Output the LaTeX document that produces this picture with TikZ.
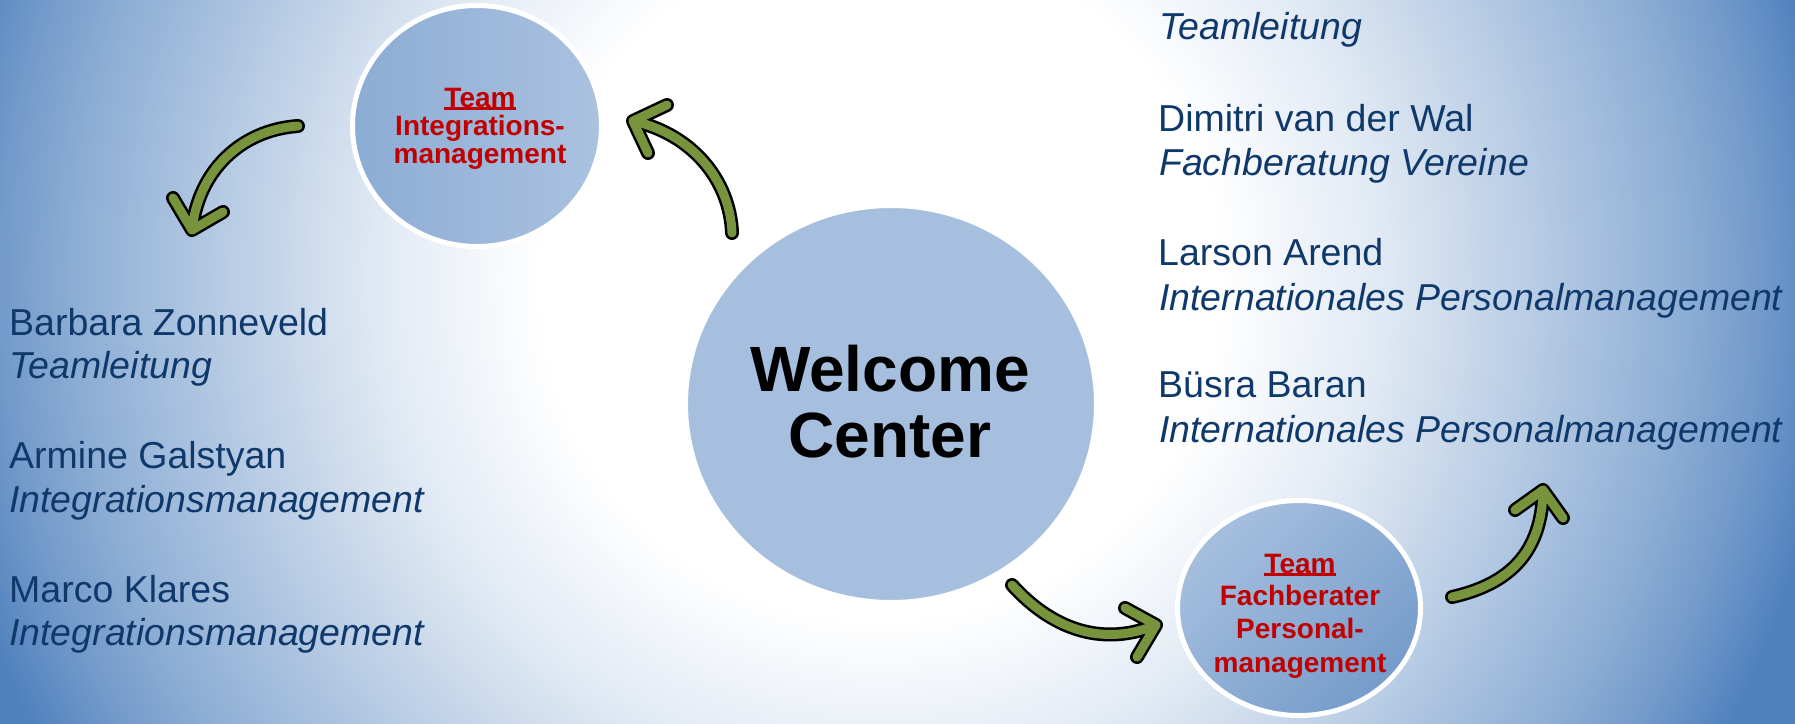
\documentclass[tikz,border=0pt]{standalone}
\usepackage{fontspec}
\setmainfont{Liberation Sans}
\usetikzlibrary{shapes.geometric}
\definecolor{bgblue}{HTML}{4F81BD}
\colorlet{bgA}{bgblue!17!white}
\colorlet{bgB}{bgblue!40!white}
\colorlet{bgC}{bgblue!64!white}
\colorlet{bgD}{bgblue!80!white}
\definecolor{txtblue}{HTML}{0F386B}
\definecolor{teamred}{HTML}{C00000}
\definecolor{maincol}{HTML}{A7BFDE}
\definecolor{tiL}{RGB}{140,172,212}
\definecolor{tiR}{RGB}{171,194,224}
\definecolor{tfA}{RGB}{166,191,222}
\definecolor{tfB}{RGB}{118,156,203}
\definecolor{arrowgreen}{HTML}{77933C}
\pgfdeclareradialshading{bgshade}{\pgfpoint{0bp}{0bp}}{color(0bp)=(white); color(8.5bp)=(white); color(12.5bp)=(bgA); color(16.25bp)=(bgB); color(20bp)=(bgC); color(22bp)=(bgD); color(24bp)=(bgblue); color(50bp)=(bgblue)}
\newcommand{\myul}[1]{\setbox0\hbox{#1}\rlap{\rule[-2.6pt]{\wd0}{2.3pt}}\box0}
\newcommand{\bogen}[6]{%
  \draw[arrowout] (#1) .. controls (#2) and (#3) .. (#4) -- (#5) (#4) -- (#6);
  \draw[arrowin] (#1) .. controls (#2) and (#3) .. (#4) -- (#5) (#4) -- (#6);}
\tikzset{
  namesty/.style={anchor=base west, inner sep=0pt, text=txtblue, font=\fontsize{37.5}{44}\selectfont},
  rolesty/.style={anchor=base west, inner sep=0pt, text=txtblue, font=\fontsize{37.5}{44}\selectfont\itshape},
  teamsty/.style={anchor=base, inner sep=0pt, text=teamred, font=\fontsize{28}{30}\selectfont\bfseries},
  wcsty/.style={anchor=base, inner sep=0pt, text=black, font=\fontsize{64}{66}\selectfont\bfseries},
  arrowout/.style={line width=14pt, draw=black, line cap=round, line join=round},
  arrowin/.style={line width=9pt, draw=arrowgreen, line cap=round, line join=round},
  circ/.style={ellipse, inner sep=0pt, draw=white}
}
\begin{document}
\begin{tikzpicture}[x=1pt,y=-1pt]
\useasboundingbox (0,0) rectangle (1795,723);
\begin{scope}
  \clip (0,0) rectangle (1795,723);
  \shade[shading=bgshade] (-120,-720) rectangle (1880,1280);
\end{scope}

% circles
\node[circ, fill=maincol, line width=2pt, minimum width=408pt, minimum height=394pt] (wc) at (891,404) {};
\node[circ, line width=5pt, left color=tiL, right color=tiR, minimum width=249pt, minimum height=241pt] (ti) at (477,126) {};
\node[circ, line width=5pt, top color=tfA, bottom color=tfB, shading angle=45, minimum width=243pt, minimum height=215pt] (tf) at (1299,608) {};

% circle texts
\node[wcsty] (wc1) at (890,391) {Welcome};
\node[wcsty] (wc2) at (890,457) {Center};
\node[teamsty] (ti1) at (480,107) {\myul{Team}};
\node[teamsty] (ti2) at (480,135) {Integrations-};
\node[teamsty] (ti3) at (480,163) {management};
\node[teamsty] (tf1) at (1300,573) {\myul{Team}};
\node[teamsty] (tf2) at (1300,605) {Fachberater};
\node[teamsty] (tf3) at (1300,638) {Personal-};
\node[teamsty] (tf4) at (1300,672) {management};

% left list
\node[namesty] (l1) at (9,335) {Barbara Zonneveld};
\node[rolesty] (l2) at (9,378) {Teamleitung};
\node[namesty] (l3) at (9,468) {Armine Galstyan};
\node[rolesty] (l4) at (9,512) {Integrationsmanagement};
\node[namesty] (l5) at (9,602) {Marco Klares};
\node[rolesty] (l6) at (9,645) {Integrationsmanagement};

% right list
\node[rolesty] (r1) at (1159,39) {Teamleitung};
\node[namesty] (r2) at (1158,131) {Dimitri van der Wal};
\node[rolesty] (r3) at (1159,175) {Fachberatung Vereine};
\node[namesty] (r4) at (1158,265) {Larson Arend};
\node[rolesty] (r5) at (1159,310) {Internationales Personalmanagement};
\node[namesty] (r6) at (1158,397) {Büsra Baran};
\node[rolesty] (r7) at (1159,442) {Internationales Personalmanagement};

% arrows
\coordinate (a1s) at (298,126); \coordinate (a1c) at (240,130);
\coordinate (a1d) at (198,172); \coordinate (a1t) at (192,230);
\coordinate (a1l) at (173,198); \coordinate (a1r) at (223,212);
\bogen{a1s}{a1c}{a1d}{a1t}{a1l}{a1r}

\coordinate (a2s) at (732,233); \coordinate (a2c) at (730,180);
\coordinate (a2d) at (692,134); \coordinate (a2t) at (633,121);
\coordinate (a2l) at (667,105); \coordinate (a2r) at (648,153);
\bogen{a2s}{a2c}{a2d}{a2t}{a2l}{a2r}

\coordinate (a3s) at (1012,585); \coordinate (a3c) at (1050,627);
\coordinate (a3d) at (1100,648); \coordinate (a3t) at (1156,625);
\coordinate (a3l) at (1125,608); \coordinate (a3r) at (1137,657);
\bogen{a3s}{a3c}{a3d}{a3t}{a3l}{a3r}

\coordinate (a4s) at (1452,597); \coordinate (a4c) at (1510,584);
\coordinate (a4d) at (1542,552); \coordinate (a4t) at (1543,490);
\coordinate (a4l) at (1515,510); \coordinate (a4r) at (1563,518);
\bogen{a4s}{a4c}{a4d}{a4t}{a4l}{a4r}
\end{tikzpicture}
\end{document}
